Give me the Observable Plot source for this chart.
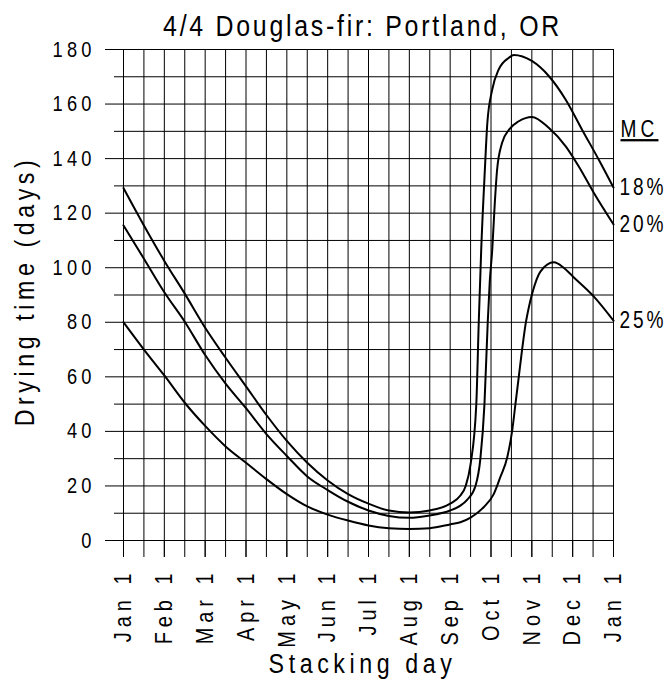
<!DOCTYPE html>
<html>
<head>
<meta charset="utf-8">
<script src="https://cdn.jsdelivr.net/npm/d3@7"></script>
<script src="https://cdn.jsdelivr.net/npm/@observablehq/plot@0.6"></script>
<style>
  html, body { margin: 0; padding: 0; background: #fff; }
  #chart svg { display: block; }
</style>
</head>
<body>
<div id="chart"></div>
<script>
// ---- data (x = months after Jan 1, y = drying time in days) ----
const title = "4/4 Douglas-fir: Portland, OR";
const xTitle = "Stacking day";
const yTitle = "Drying time (days)";
const legendTitle = "MC";

const monthTicks = [0, 1, 2, 3, 4, 5, 6, 7, 8, 9, 10, 11, 12];
const monthLabels = ["Jan 1", "Feb 1", "Mar 1", "Apr 1", "May 1", "Jun 1", "Jul 1",
                     "Aug 1", "Sep 1", "Oct 1", "Nov 1", "Dec 1", "Jan 1"];
const yMajorTicks = [0, 20, 40, 60, 80, 100, 120, 140, 160, 180];
const yMinorTicks = [10, 30, 50, 70, 90, 110, 130, 150, 170];

const mc18Month = [0, 0.5, 1, 1.5, 2, 2.5, 3, 3.5, 4, 4.5, 5, 5.5, 6, 6.5, 7, 7.5, 8, 8.25, 8.38, 8.5,
                   8.64, 8.7, 8.76, 8.85, 8.91, 9.03, 9.19, 9.44, 9.56, 10, 10.42, 10.83, 11.23, 11.64, 12];
const mc18Days  = [129.2, 115.5, 102.5, 90.5, 78, 67, 56.5, 46, 36.5, 28.5, 22, 17, 13.5, 11, 10.3, 11, 13.5, 16.5, 20, 28,
                   50, 80, 106.5, 136, 153, 165.3, 172.7, 177, 178, 175.8, 170.2, 161.6, 150.6, 139.6, 129.4];

const mc20Month = [0, 0.5, 1, 1.5, 2, 2.5, 3, 3.5, 4, 4.5, 5, 5.5, 6, 6.5, 7, 7.5, 8, 8.25, 8.42, 8.62,
                   8.74, 8.84, 8.92, 8.97, 9.03, 9.09, 9.15, 9.27, 9.44, 9.68, 10, 10.42, 10.83, 11.15, 11.52, 12];
const mc20Days  = [115.5, 103.3, 91, 80.2, 68, 57.5, 48.5, 39, 31, 23.5, 18.5, 14.2, 11, 9, 8.3, 9.2, 11, 12.8, 15, 20,
                   30, 50, 80, 95, 106.5, 123, 136, 145.7, 150.6, 153.7, 155.3, 151.2, 144.5, 137.1, 127.4, 115.9];

const mc25Month = [0, 0.5, 1, 1.5, 2, 2.5, 3, 3.5, 4, 4.5, 5, 5.5, 6, 6.5, 7, 7.5, 8, 8.25, 8.5, 8.82,
                   9.07, 9.23, 9.4, 9.52, 9.6, 9.68, 9.76, 9.85, 9.93, 10.01, 10.21, 10.54, 10.78, 11.01, 11.52, 12];
const mc25Days  = [80, 70, 60.5, 50.5, 42, 34.5, 28.5, 22.5, 17, 12.5, 9.5, 7.3, 5.5, 4.5, 4.2, 4.5, 5.9, 6.7, 8.4, 12.2,
                   17.1, 23.3, 30.6, 40.4, 50.2, 60, 69.8, 79.6, 85.7, 90.6, 98.6, 102, 100, 96.7, 89.4, 80.6];

const seriesNames = ["18%", "20%", "25%"];

// ---- build table ----
const seriesCols = [[mc18Month, mc18Days], [mc20Month, mc20Days], [mc25Month, mc25Days]];
const rows = seriesCols.flatMap(([xs, ys], i) => xs.map((m, j) => ({mc: seriesNames[i], month: m, days: ys[j]})));
const halfMonths = d3.range(0, 12.001, 0.5);
const yGrid = d3.range(0, 180.001, 10);

const FONT = '"Liberation Sans", Arial, Helvetica, sans-serif';

const chart = Plot.plot({
  width: 670,
  height: 683,
  marginLeft: 123,
  marginRight: 57,
  marginTop: 49,
  marginBottom: 143,
  x: {domain: [0, 12]},
  y: {domain: [0, 180]},
  style: {fontFamily: FONT, color: "#000", background: "#fff", overflow: "visible"},
  marks: [
    Plot.gridY(yGrid, {stroke: "#000", strokeOpacity: 1, strokeWidth: 1}),
    Plot.gridX(halfMonths, {stroke: "#000", strokeOpacity: 1, strokeWidth: 1}),
    Plot.axisY(yMajorTicks, {tickSize: 18, tickPadding: 10, fontSize: 22, label: null, tickFormat: d => String(d)}),
    Plot.axisY(yMinorTicks, {tickSize: 9, text: null, label: null}),
    Plot.axisX(halfMonths, {tickSize: 17, text: null, label: null}),
    Plot.axisX(monthTicks, {tickSize: 17, tickPadding: 11, tickRotate: -90, fontSize: 24, label: null,
                            tickFormat: (d, i) => monthLabels[i]}),
    Plot.line(rows, {x: "month", y: "days", z: "mc", curve: "monotone-x", stroke: "#000", strokeWidth: 2}),
    Plot.text(rows, Plot.selectLast({x: "month", y: "days", z: "mc", text: "mc", dx: 6, textAnchor: "start",
                                     fontSize: 23})),
    Plot.text(rows.filter(d => d.mc === seriesNames[0]),
              Plot.selectLast({x: "month", y: "days", text: () => legendTitle, dx: 7, dy: -58,
                               textAnchor: "start", fontSize: 23})),
    Plot.text([title], {frameAnchor: "top", textAnchor: "middle", dx: -6, dy: -14, lineAnchor: "bottom", fontSize: 30}),
    Plot.text([xTitle], {frameAnchor: "bottom", textAnchor: "middle", dx: -6, dy: 132, lineAnchor: "bottom", fontSize: 28}),
    Plot.text([yTitle], {frameAnchor: "left", textAnchor: "middle", dx: -90, dy: -4, rotate: -90,
                         lineAnchor: "bottom", fontSize: 28})
  ]
});

document.getElementById("chart").appendChild(chart);

// emulate the condensed, letter-spaced lettering of the original
const NARROW = 0.83;
d3.select(chart).selectAll("text").each(function() {
  const t = this.textContent;
  const parentLabel = this.parentNode && this.parentNode.getAttribute("aria-label");
  let ls = 0;
  if (parentLabel === "y-axis tick label") ls = 5;
  else if (parentLabel === "x-axis tick label") ls = 6;
  else if (t === title) ls = 3.3;
  else if (t === xTitle || t === yTitle) ls = 5.5;
  else if (seriesNames.includes(t)) ls = 3.5;
  else if (t === legendTitle) {
    ls = 5;
    this.setAttribute("text-decoration", "underline");
  }
  this.style.letterSpacing = ls + "px";
  const x = +this.getAttribute("x") || 0;
  const tr = this.getAttribute("transform") || "";
  const sc = x ? ` translate(${x},0) scale(${NARROW},1) translate(${-x},0)` : ` scale(${NARROW},1)`;
  this.setAttribute("transform", (tr + sc).trim());
});
</script>
</body>
</html>
